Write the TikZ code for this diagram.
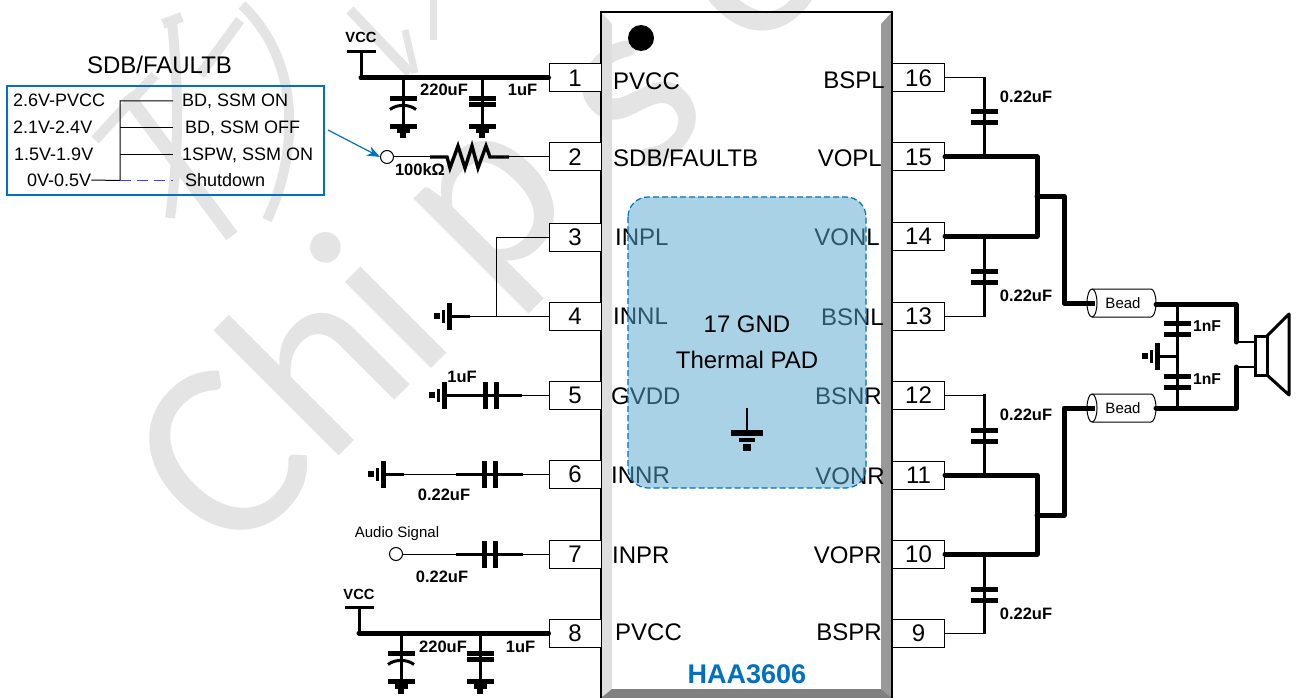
\documentclass[tikz,border=0pt]{standalone}
\usepackage{fontspec}
\setmainfont{Liberation Sans}
\newfontfamily\markfont{Carlito}
\usetikzlibrary{arrows.meta}

\definecolor{icblue}{RGB}{0,112,192}
\definecolor{padblue}{RGB}{88,167,206}
\definecolor{markgray}{RGB}{228,228,228}

\tikzset{
  pinbox/.style={draw, line width=1pt, fill=white, minimum width=52pt, minimum height=28pt, inner sep=0pt, font=\fontsize{24}{24}\selectfont},
  pinlabel/.style={inner sep=0pt, font=\fontsize{24}{24}\selectfont},
  tabletext/.style={anchor=west, inner sep=0pt, font=\fontsize{18}{18}\selectfont},
  partlabel/.style={inner sep=0pt, font=\fontsize{16.5}{16.5}\bfseries\selectfont},
  vcclabel/.style={inner sep=0pt, font=\fontsize{14.7}{14.7}\bfseries\selectfont},
  nflabel/.style={inner sep=0pt, font=\fontsize{15.7}{15.7}\bfseries\selectfont},
  smalltext/.style={inner sep=0pt, font=\fontsize{15}{15}\selectfont},
  wirethin/.style={line width=1pt},
  wiremid/.style={line width=3pt},
  wirebus/.style={line width=5pt, line join=round, line cap=round},
  opennode/.style={circle, draw, fill=white, line width=1pt, minimum size=13pt, inner sep=0pt},
  beadbody/.style={draw, line width=1pt, fill=white},
  markstroke/.style={draw=markgray, line width=10pt},
  marktext/.style={text=markgray, anchor=base west, rotate=45, inner sep=0pt, font=\markfont\fontsize{255}{255}\selectfont},
  % ground pointing down, steps touching
  gndsym/.pic={
    \fill (-13.5,-2.5) rectangle (13.5,2.5);
    \fill (-6.5,2.5) rectangle (6.5,7);
    \fill (-3,7) rectangle (3,12);
  },
  % ground with gaps, rotate it for the side ones
  gndside/.pic={
    \fill (-13.5,-2.5) rectangle (13.5,2.5);
    \fill (-6.5,4) rectangle (6.5,7.5);
    \fill (-3,9.5) rectangle (3,15);
  },
  % plates of a capacitor across the wire
  capsym/.pic={
    \fill (-13.5,-8) rectangle (13.5,-3);
    \fill (-13.5,3) rectangle (13.5,8);
  },
  capnear/.pic={
    \fill (-13.5,-5.5) rectangle (13.5,-0.5);
    \fill (-13.5,0.5) rectangle (13.5,5.5);
  },
  % polarised one, flat plate and bent plate
  polcap/.pic={
    \fill (-13.5,-5.5) rectangle (13.5,-0.5);
    \draw[line width=3pt] (-13,8) .. controls (-6,2.5) and (6,2.5) .. (13,8);
  }
}

\begin{document}
\begin{tikzpicture}[x=1pt, y=-1pt]
\useasboundingbox (0,0) rectangle (1296,698);

% watermark
\node[marktext] (markA) at (230,565) {Ch};
\node[marktext] (markB) at (418,382) {i};
\node[marktext] (markC) at (487,298) {p};
\node[marktext] (markD) at (646.5,181.5) {s};
\node[marktext] (markE) at (753,60) {oc};
\draw[markstroke] (172,22) .. controls (180,100) and (178,160) .. (170,218);
\draw[markstroke] (163,24) -- (182,17);
\draw[markstroke] (95,140) -- (155,75);
\draw[markstroke, line width=14pt] (127,95) -- (232,236);
\draw[markstroke] (242,5) .. controls (300,60) and (300,150) .. (267,220);
\draw[markstroke] (240,20) -- (200,75);
\draw[markstroke] (350,10) -- (410,73);
\draw[markstroke, line width=7pt] (433,0) -- (433,40);
\draw[markstroke, line width=7pt] (405,30) -- (415,73);

% package
\fill[black!13] (601,12) -- (612,24) -- (612,689) -- (601,698) -- cycle;
\fill[black!40] (892,12) -- (881,24) -- (881,689) -- (892,698) -- cycle;
\fill[black!50] (601,698) -- (612,689) -- (881,689) -- (892,698) -- cycle;
\draw[line width=1.2pt] (601,698) -- (601,12) -- (892,12) -- (892,698);
\fill (641,38) circle (13);
\node[text=icblue, inner sep=0pt, font=\fontsize{27}{27}\bfseries\selectfont] (partno) at (747,674) {HAA3606};

% pin names
\node[pinlabel, anchor=west] (lblA) at (613,81) {PVCC};
\node[pinlabel, anchor=west] (lblB) at (613,158) {SDB/FAULTB};
\node[pinlabel, anchor=west] (lblC) at (615,237) {INPL};
\node[pinlabel, anchor=west] (lblD) at (613,316) {INNL};
\node[pinlabel, anchor=west] (lblE) at (611,396) {GVDD};
\node[pinlabel, anchor=west] (lblF) at (611,475) {INNR};
\node[pinlabel, anchor=west] (lblG) at (612,555) {INPR};
\node[pinlabel, anchor=west] (lblH) at (615,632) {PVCC};
\node[pinlabel, anchor=east] (lblP) at (885,80) {BSPL};
\node[pinlabel, anchor=east] (lblO) at (882,158) {VOPL};
\node[pinlabel, anchor=east] (lblN) at (880,237) {VONL};
\node[pinlabel, anchor=east] (lblM) at (884,317) {BSNL};
\node[pinlabel, anchor=east] (lblL) at (882,396) {BSNR};
\node[pinlabel, anchor=east] (lblK) at (885,476) {VONR};
\node[pinlabel, anchor=east] (lblJ) at (882,555) {VOPR};
\node[pinlabel, anchor=east] (lblI) at (882,632) {BSPR};

% thermal pad lies over the names
\draw[icblue, line width=1.2pt, fill=padblue, fill opacity=0.51, rounded corners=20pt, dash pattern=on 6pt off 3pt] (628,197) rectangle (866,488);
\node[pinlabel] (padA) at (747,324) {17 GND};
\node[pinlabel] (padB) at (747,360) {Thermal PAD};
\coordinate (padgnd) at (747,408);
\coordinate (padgndB) at (747,432);
\draw[line width=1.5pt] (padgnd) -- (padgndB);
\pic[scale=1.2] at (747,433) {gndside};

% pins
\foreach \n/\y in {1/78,2/157,3/237,4/316,5/395,6/474,7/554,8/633}
  \node[pinbox] (pin\n) at (575,\y) {\n};
\foreach \n/\y in {16/78,15/157,14/236,13/316,12/395,11/475,10/554,9/633}
  \node[pinbox] (pin\n) at (918.5,\y) {\n};

% table of the SDB/FAULTB levels
\node[pinlabel] (tabletitle) at (159.5,65) {SDB/FAULTB};
\draw[icblue, line width=1.4pt] (7,86) rectangle (324,195);
\node[tabletext] (lvlA) at (13,100) {2.6V-PVCC};
\node[tabletext] (lvlB) at (13,127) {2.1V-2.4V};
\node[tabletext] (lvlC) at (14,154) {1.5V-1.9V};
\node[tabletext] (lvlD) at (27,180) {0V-0.5V};
\node[tabletext] (modeA) at (182,101) {BD, SSM ON};
\node[tabletext] (modeB) at (185,128) {BD, SSM OFF};
\node[tabletext] (modeC) at (182,155) {1SPW, SSM ON};
\node[tabletext] (modeD) at (185,180) {Shutdown};
\coordinate (treetop) at (120,101);
\coordinate (treebot) at (120,180.5);
\draw[wirethin] (173,101) -- (treetop) -- (treebot) -- (lvlD.east);
\draw[wirethin] (120,128) -- (173,128);
\draw[wirethin] (120,154.5) -- (173,154.5);
\draw[blue!75!white, line width=1.2pt, dash pattern=on 11pt off 6pt] (treebot) -- (173,180.5);

% pin 1, pin 8 supplies
\coordinate (vccA) at (361,52);
\node[vcclabel] (vccAtext) at (361,37) {VCC};
\draw[wiremid] (347,52) -- (376,52);
\draw[wiremid] (vccA) -- (361,78);
\draw[wirebus] (361,78) -- (pin1.west);
\draw[wiremid] (403,78) -- (403,126);
\draw[wiremid] (482,78) -- (482,126);
\pic at (403,101.5) {polcap};
\pic at (482,101.5) {capnear};
\pic at (403,126.5) {gndsym};
\pic at (482,126.5) {gndsym};
\node[partlabel] (capA) at (444,90) {220uF};
\node[partlabel] (capB) at (522.5,90) {1uF};

\coordinate (vccB) at (359,607);
\node[vcclabel] (vccBtext) at (359,594) {VCC};
\draw[wiremid] (345,607) -- (374,607);
\draw[wiremid] (vccB) -- (359,633);
\draw[wirebus] (359,633) -- (pin8.west);
\draw[wiremid] (401,633) -- (401,681);
\draw[wiremid] (480,633) -- (480,681);
\pic at (401,656.5) {polcap};
\pic at (480,656.5) {capnear};
\pic at (401,681.5) {gndsym};
\pic at (480,681.5) {gndsym};
\node[partlabel] (capC) at (443,647) {220uF};
\node[partlabel] (capD) at (520.5,647) {1uF};

% pin 2
\node[opennode] (sdb) at (387,157) {};
\coordinate (arrowfree) at (328,130);
\draw[icblue, line width=1.2pt, -{Stealth[length=13pt, width=10pt]}] (arrowfree) -- (sdb.west);
\draw[wirethin] (sdb) -- (430,157);
\draw[line width=3.4pt, line join=miter] (430,157) -- (447,157) -- (450,168) -- (458,146) -- (465,168) -- (472,146) -- (478,168) -- (486,146) -- (490,157) -- (509,157);
\draw[wirethin] (509,157) -- (pin2.west);
\node[partlabel] (resA) at (420,170) {100kΩ};

% pin 3, 4
\coordinate (inl) at (496,316);
\draw[wirethin] (pin3.west) -- (496,237) -- (inl);
\draw[wirethin] (pin4.west) -- (470,316);
\draw[wiremid] (470,316) -- (450,316);
\pic[rotate=-90] at (449,316) {gndside};

% pin 5
\draw[wirethin] (pin5.west) -- (522,395);
\draw[wiremid] (522,395) -- (446,395);
\pic[rotate=-90] at (491,395) {capsym};
\pic[rotate=-90] at (444,395) {gndside};
\node[partlabel] (capE) at (462,377) {1uF};

% pin 6
\draw[wirethin] (pin6.west) -- (523,474);
\draw[wiremid] (523,474) -- (456,474);
\draw[wirethin] (456,474) -- (404,474);
\draw[wiremid] (404,474) -- (384,474);
\pic[rotate=-90] at (489.5,474) {capsym};
\pic[rotate=-90] at (383,474) {gndside};
\node[partlabel] (capF) at (444,495) {0.22uF};

% pin 7
\node[opennode] (audio) at (396,554) {};
\draw[wirethin] (pin7.west) -- (523,554);
\draw[wiremid] (523,554) -- (456,554);
\draw[wirethin] (456,554) -- (audio);
\pic[rotate=-90] at (490,554) {capsym};
\node[smalltext] (audiotext) at (397,534) {Audio Signal};
\node[partlabel] (capG) at (442,577) {0.22uF};

% left channel output
\draw[wirebus] (pin15.east) -- (1037,157) -- (1037,236) -- (pin14.east);
\draw[wirebus] (1037,196) -- (1064,196) -- (1064,303) -- (1090,303);
\draw[wirethin] (pin16.east) -- (984,78);
\draw[wiremid] (984,77) -- (984,157);
\pic at (984,117.5) {capsym};
\node[partlabel] (capH) at (1026,97) {0.22uF};
\draw[wirethin] (pin13.east) -- (984,316);
\draw[wiremid] (984,317) -- (984,236);
\pic at (984,276.5) {capsym};
\node[partlabel] (capI) at (1026,296) {0.22uF};

% right channel output
\draw[wirebus] (pin11.east) -- (1037,475) -- (1037,554) -- (pin10.east);
\draw[wirebus] (1037,515) -- (1064,515) -- (1064,408) -- (1090,408);
\draw[wirethin] (pin12.east) -- (984,395);
\draw[wiremid] (984,394) -- (984,475);
\pic at (984,435.5) {capsym};
\node[partlabel] (capJ) at (1026,415) {0.22uF};
\draw[wirethin] (pin9.east) -- (984,633);
\draw[wiremid] (984,634) -- (984,554);
\pic at (984,594.5) {capsym};
\node[partlabel] (capK) at (1026,614) {0.22uF};

% beads
\foreach \name/\y in {beadA/303,beadB/408} {
  \draw[beadbody] (1092,\y-14) -- (1151,\y-14) arc[start angle=90, end angle=-90, x radius=5pt, y radius=14pt] -- (1092,\y+14) arc[start angle=270, end angle=90, x radius=5pt, y radius=14pt];
  \draw[wirebus, line cap=butt] (1085,\y) -- (1095,\y);
  \draw[line width=1pt] (1092,\y-14) arc[start angle=90, end angle=-90, x radius=5pt, y radius=14pt];
  \node[smalltext] (\name) at (1123,\y) {Bead};
}

% speaker side
\draw[wirebus] (1156,304.5) -- (1236,304.5) -- (1236,342);
\draw[wirebus] (1156,408) -- (1236,408) -- (1236,367);
\draw[wiremid] (1177,304) -- (1177,408);
\pic at (1177,329) {capsym};
\pic at (1177,381.5) {capsym};
\draw[wiremid] (1177,356) -- (1158,356);
\pic[rotate=-90] at (1157,356) {gndside};
\node[nflabel] (capL) at (1207,326) {1nF};
\node[nflabel] (capM) at (1207,379) {1nF};
\coordinate (spkA) at (1254,342);
\coordinate (spkB) at (1254,367);
\draw[line width=1.2pt] (1236,342) -- (spkA);
\draw[line width=1.2pt] (1236,367) -- (spkB);
\draw[wiremid] (1255,336) rectangle (1267,375);
\draw[wiremid, line join=round] (1267,336) -- (1289,314) -- (1289,395) -- (1267,375);

\end{tikzpicture}
\end{document}
